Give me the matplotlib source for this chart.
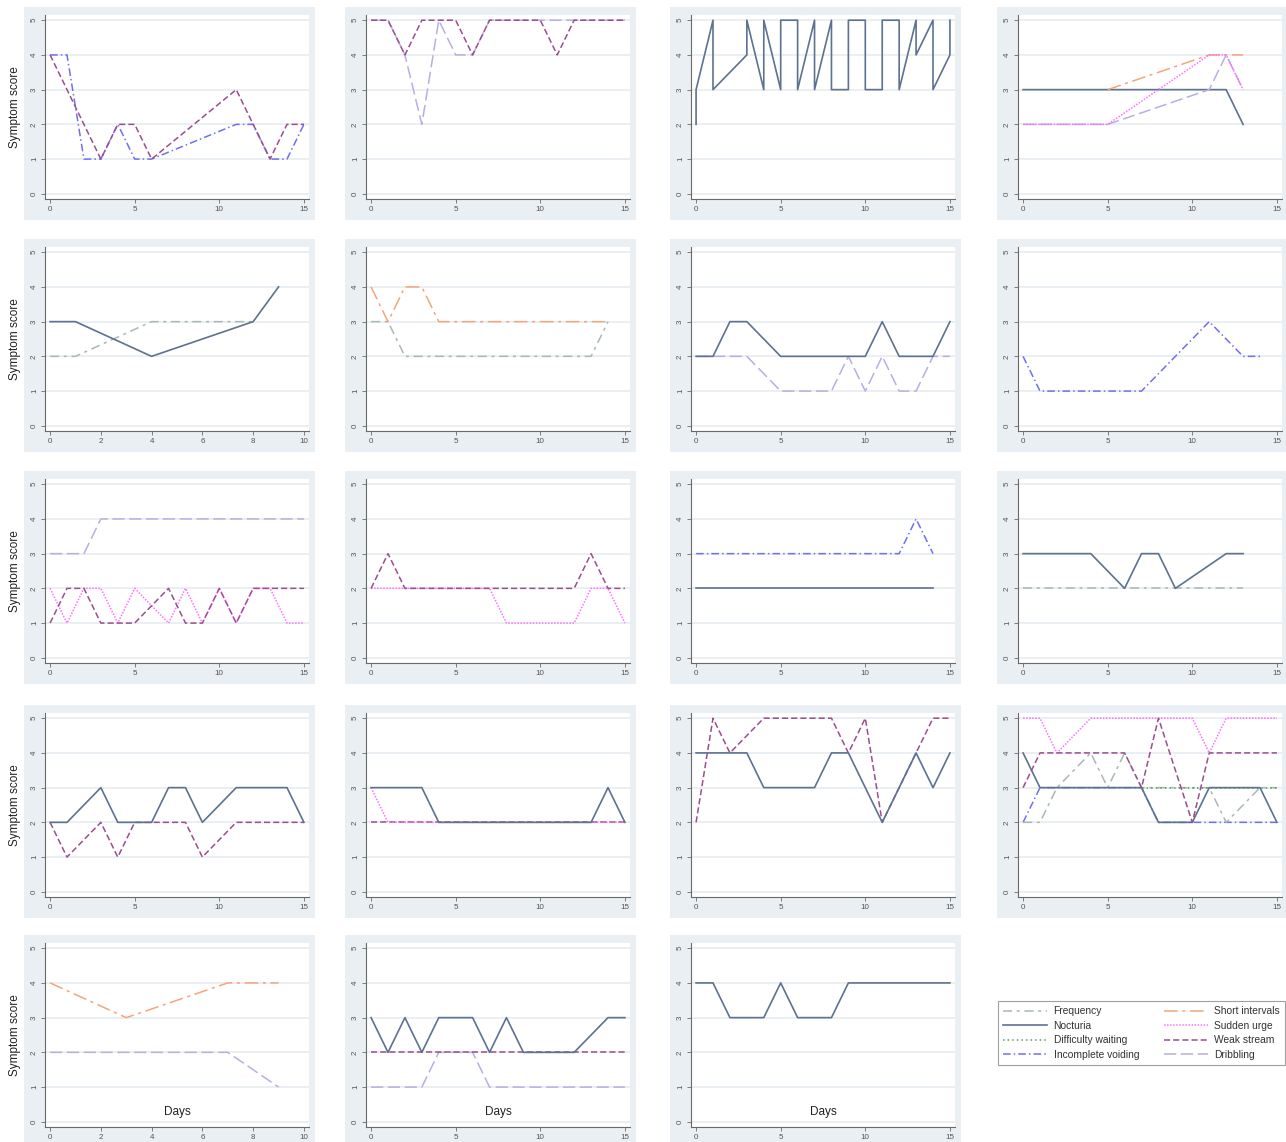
import numpy as np
import matplotlib.pyplot as plt
from matplotlib.lines import Line2D
from matplotlib.patches import Rectangle

plt.rcParams['font.family'] = ['Liberation Sans', 'DejaVu Sans']

# line style per symptom (colour, dash pattern, width)
styles = {
    "Frequency":          ("#a9b8b2", (0, (6, 3, 2, 3)), 1.1),
    "Nocturia":           ("#5d7290", "-", 1.2),
    "Difficulty waiting": ("#55a055", (0, (1, 2)), 1.1),
    "Incomplete voiding": ("#6f6ff2", (0, (5, 2, 1, 2)), 1.1),
    "Short intervals":    ("#f4a57c", (0, (9, 3, 2, 3)), 1.1),
    "Sudden urge":        ("#ff70ff", (0, (1, 1)), 1.1),
    "Weak stream":        ("#9a4e8e", (0, (4, 2)), 1.1),
    "Dribbling":          ("#b9aee3", (0, (8, 3)), 1.1),
}
legend_order = ["Frequency", "Nocturia", "Difficulty waiting", "Incomplete voiding",
                "Short intervals", "Sudden urge", "Weak stream", "Dribbling"]

# one list per patient: (symptom, days, scores)
panel01 = [("Incomplete voiding", [0, 1, 2, 3, 4, 5, 6, 11, 12, 13, 14, 15], [4, 4, 1, 1, 2, 1, 1, 2, 2, 1, 1, 2]),
           ("Weak stream", [0, 3, 4, 5, 6, 11, 13, 14, 15], [4, 1, 2, 2, 1, 3, 1, 2, 2])]
panel02 = [("Dribbling", [0, 1, 2, 3, 4, 5, 6, 7, 8, 9, 10, 11, 12, 13, 14, 15], [5, 5, 4, 2, 5, 4, 4, 5, 5, 5, 5, 5, 5, 5, 5, 5]),
           ("Weak stream", [0, 1, 2, 3, 4, 5, 6, 7, 8, 9, 10, 11, 12, 13, 14, 15], [5, 5, 4, 5, 5, 5, 4, 5, 5, 5, 5, 4, 5, 5, 5, 5])]
panel03 = [("Nocturia",
            [0, 0, 1, 1, 3, 3, 4, 4, 5, 5, 6, 6, 7, 7, 8, 8, 9, 9, 10, 10, 11, 11, 12, 12, 13, 13, 14, 14, 15, 15],
            [2, 3, 5, 3, 4, 5, 3, 5, 3, 5, 5, 3, 5, 3, 5, 3, 3, 5, 5, 3, 3, 5, 5, 3, 5, 4, 5, 3, 4, 5])]
panel04 = [("Nocturia", [0, 5, 11, 12, 13], [3, 3, 3, 3, 2]),
           ("Short intervals", [5, 11, 12, 13], [3, 4, 4, 4]),
           ("Dribbling", [0, 5, 11, 12, 13], [2, 2, 3, 4, 3]),
           ("Sudden urge", [0, 5, 11, 12, 13], [2, 2, 4, 4, 3])]
panel05 = [("Frequency", [0, 1, 4, 8], [2, 2, 3, 3]),
           ("Nocturia", [0, 1, 4, 8, 9], [3, 3, 2, 3, 4])]
panel06 = [("Frequency", [0, 1, 2, 13, 14], [3, 3, 2, 2, 3]),
           ("Short intervals", [0, 1, 2, 3, 4, 14], [4, 3, 4, 4, 3, 3])]
panel07 = [("Dribbling", [0, 3, 5, 8, 9, 10, 11, 12, 13, 14, 15], [2, 2, 1, 1, 2, 1, 2, 1, 1, 2, 2]),
           ("Nocturia", [0, 1, 2, 3, 5, 10, 11, 12, 14, 15], [2, 2, 3, 3, 2, 2, 3, 2, 2, 3])]
panel08 = [("Incomplete voiding", [0, 1, 7, 11, 13, 14], [2, 1, 1, 3, 2, 2])]
panel09 = [("Dribbling", [0, 2, 3, 15], [3, 3, 4, 4]),
           ("Sudden urge", [0, 1, 2, 3, 4, 5, 7, 8, 9, 10, 11, 12, 13, 14, 15], [2, 1, 2, 2, 1, 2, 1, 2, 1, 2, 1, 2, 2, 1, 1]),
           ("Weak stream", [0, 1, 2, 3, 5, 7, 8, 9, 10, 11, 12, 15], [1, 2, 2, 1, 1, 2, 1, 1, 2, 1, 2, 2])]
panel10 = [("Sudden urge", [0, 7, 8, 12, 13, 14, 15], [2, 2, 1, 1, 2, 2, 1]),
           ("Weak stream", [0, 1, 2, 12, 13, 14, 15], [2, 3, 2, 2, 3, 2, 2])]
panel11 = [("Nocturia", [0, 14], [2, 2]),
           ("Incomplete voiding", [0, 12, 13, 14], [3, 3, 4, 3])]
panel12 = [("Frequency", [0, 13], [2, 2]),
           ("Nocturia", [0, 4, 6, 7, 8, 9, 12, 13], [3, 3, 2, 3, 3, 2, 3, 3])]
panel13 = [("Weak stream", [0, 1, 3, 4, 5, 8, 9, 11, 15], [2, 1, 2, 1, 2, 2, 1, 2, 2]),
           ("Nocturia", [0, 1, 3, 4, 6, 7, 8, 9, 11, 14, 15], [2, 2, 3, 2, 2, 3, 3, 2, 3, 3, 2])]
panel14 = [("Weak stream", [0, 15], [2, 2]),
           ("Sudden urge", [0, 1, 15], [3, 2, 2]),
           ("Nocturia", [0, 3, 4, 13, 14, 15], [3, 3, 2, 2, 3, 2])]
panel15 = [("Weak stream", [0, 1, 2, 4, 8, 9, 10, 11, 13, 14, 15], [2, 5, 4, 5, 5, 4, 5, 2, 4, 5, 5]),
           ("Nocturia", [0, 3, 4, 7, 8, 9, 11, 13, 14, 15], [4, 4, 3, 3, 4, 4, 2, 4, 3, 4])]
panel16 = [("Incomplete voiding", [0, 1, 7, 8, 15], [2, 3, 3, 2, 2]),
           ("Frequency", [0, 1, 2, 4, 5, 6, 7, 11, 12, 14, 15], [2, 2, 3, 4, 3, 4, 3, 3, 2, 3, 3]),
           ("Difficulty waiting", [7, 15], [3, 3]),
           ("Nocturia", [0, 1, 7, 8, 10, 11, 14, 15], [4, 3, 3, 2, 2, 3, 3, 2]),
           ("Sudden urge", [0, 1, 2, 4, 10, 11, 12, 15], [5, 5, 4, 5, 5, 4, 5, 5]),
           ("Weak stream", [0, 1, 6, 7, 8, 10, 11, 15], [3, 4, 4, 3, 5, 2, 4, 4])]
panel17 = [("Short intervals", [0, 3, 7, 9], [4, 3, 4, 4]),
           ("Dribbling", [0, 7, 9], [2, 2, 1])]
panel18 = [("Dribbling", [0, 3, 4, 6, 7, 15], [1, 1, 2, 2, 1, 1]),
           ("Weak stream", [0, 15], [2, 2]),
           ("Nocturia", [0, 1, 2, 3, 4, 6, 7, 8, 9, 12, 14, 15], [3, 2, 3, 2, 3, 3, 2, 3, 2, 2, 3, 3])]
panel19 = [("Nocturia", [0, 1, 2, 4, 5, 6, 8, 9, 15], [4, 4, 3, 3, 4, 3, 3, 4, 4])]

panels = [panel01, panel02, panel03, panel04, panel05, panel06, panel07, panel08,
          panel09, panel10, panel11, panel12, panel13, panel14, panel15, panel16,
          panel17, panel18, panel19]
day_max = [15, 15, 15, 15, 10, 15, 15, 15, 15, 15, 15, 15, 15, 15, 15, 15, 10, 15, 15]

W, H = 1286, 1142
fig = plt.figure(figsize=(W / 100, H / 100), dpi=100)

col_left = [45, 366, 691, 1018]
row_top = [15, 247, 479, 713, 943]
ax_w, ax_h = 264, 184
bg_col = "#e9eff2"


def fig_box(left, top, width, height):
    return [left / W, 1 - (top + height) / H, width / W, height / H]


for i, series in enumerate(panels):
    r, c = divmod(i, 4)
    left, top = col_left[c], row_top[r]
    bx = fig_box(left - 21, top - 8, ax_w + 27, ax_h + 29)
    fig.patches.append(Rectangle((bx[0], bx[1]), bx[2], bx[3], transform=fig.transFigure,
                                 facecolor=bg_col, edgecolor="none", zorder=-5))
    ax = fig.add_axes(fig_box(left, top, ax_w, ax_h))
    ax.set_facecolor("white")
    for name, days, scores in series:
        color, ls, lw = styles[name]
        ax.plot(days, scores, color=color, linestyle=ls, linewidth=lw)
    xm = day_max[i]
    pad = xm * 0.02
    ax.set_xlim(-pad, xm + pad)
    ax.set_ylim(-0.15, 5.15)
    ax.set_yticks(range(6))
    ax.set_xticks(range(0, xm + 1, 2 if xm == 10 else 5))
    ax.grid(axis="y", color="#e8eef2", linewidth=1.3)
    ax.set_axisbelow(True)
    for s in ["top", "right"]:
        ax.spines[s].set_visible(False)
    for s in ["left", "bottom"]:
        ax.spines[s].set_color("#6a6a6a")
        ax.spines[s].set_linewidth(0.8)
    ax.tick_params(length=3, width=0.6, color="#6a6a6a", labelsize=5.8, labelcolor="#555555", pad=2)
    for lab in ax.get_yticklabels():
        lab.set_rotation(90)
        lab.set_va("center")
    if c == 0:
        fig.text(15 / W, 1 - (top + ax_h / 2) / H, "Symptom score", rotation=90,
                 ha="center", va="center", fontsize=8.5, color="#222222")
    if r == 4:
        ax.text(0.5, 0.08, "Days", transform=ax.transAxes, ha="center", va="center",
                fontsize=8.5, color="#222222")

handles = []
for name in legend_order:
    color, ls, lw = styles[name]
    handles.append(Line2D([], [], color=color, linestyle=ls, linewidth=lw))
lgd = fig.legend(handles, legend_order, ncol=2, loc="upper left",
                 bbox_to_anchor=(998 / W, 1 - 1001 / H), fontsize=7.4, frameon=True,
                 fancybox=False, edgecolor="#888888", handlelength=4.3, handletextpad=0.6,
                 columnspacing=2.4, labelspacing=0.45, borderpad=0.5, borderaxespad=0)
lgd.get_frame().set_linewidth(0.8)
for t in lgd.get_texts():
    t.set_color("#333333")

fig.savefig("out.png", dpi=100, facecolor="white")
